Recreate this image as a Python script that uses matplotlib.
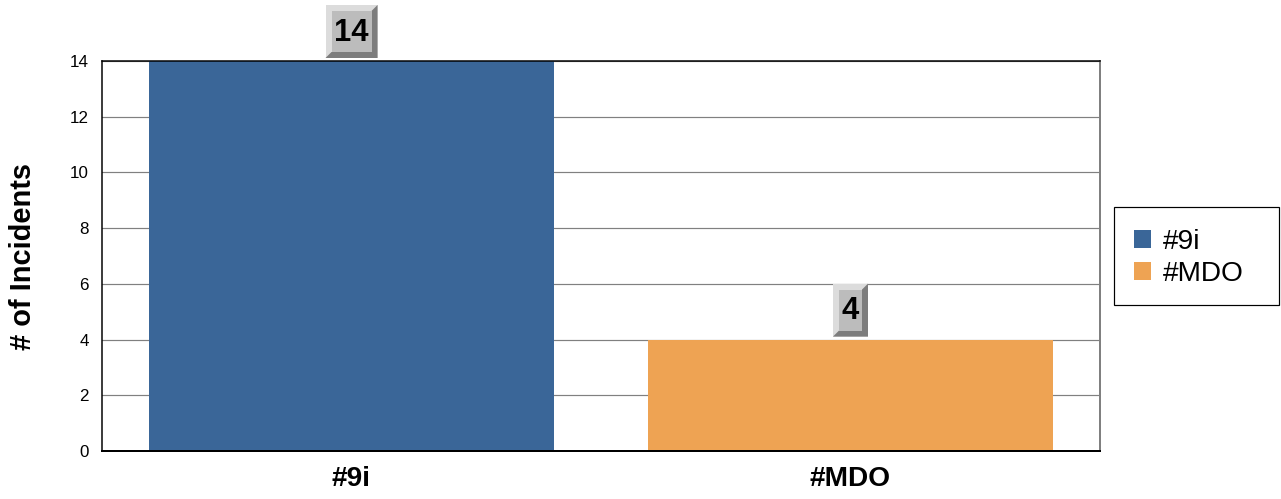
import numpy as np
import matplotlib
matplotlib.use('Agg')
import matplotlib.pyplot as plt
from matplotlib.patches import Patch, Rectangle, Polygon
from matplotlib.offsetbox import DrawingArea, AnnotationBbox

plt.rcParams['font.family'] = ['Liberation Sans', 'DejaVu Sans']

# data
categories = ['#9i', '#MDO']
incidents = [14, 4]
bar_colors = ['#3a6698', '#eea353']
y_ticks = [0, 2, 4, 6, 8, 10, 12, 14]

W, H = 1281, 499
# dpi 72 -> 1 point == 1 pixel
fig = plt.figure(figsize=(W / 72, H / 72), dpi=72)
ax = fig.add_axes([102 / W, 48 / H, 998 / W, 390 / H])

x = np.arange(len(categories))
ax.bar(x, incidents, width=0.81, color=bar_colors, zorder=3)

ax.set_xlim(-0.5, len(categories) - 0.5)
ax.set_ylim(0, 14)
ax.set_yticks(y_ticks)
ax.set_xticks(x)
ax.set_xticklabels(categories, fontsize=28, fontweight='bold')
ax.tick_params(axis='y', length=0, pad=13, labelsize=17)
ax.tick_params(axis='x', length=0, pad=15)
ax.grid(axis='y', color='#808080', linewidth=1.2, zorder=0)

ax.spines['left'].set_linewidth(1.5)
ax.spines['bottom'].set_linewidth(2)
ax.spines['top'].set_linewidth(1.5)
ax.spines['right'].set_color('#808080')
ax.spines['right'].set_linewidth(2)
for s in ax.spines.values():
    s.set_zorder(4)

fig.text(23 / W, 1 - 256 / H, '# of Incidents', rotation=90,
         ha='center', va='center', fontsize=29, fontweight='bold')

# bevelled value labels
b = 6
h = 53
gap = 3
for xi, v in zip(x, incidents):
    txt = str(v)
    w = 18 + 17 * len(txt)
    da = DrawingArea(w, h, 0, 0)
    da.add_artist(Rectangle((0, 0), w, h, facecolor='#dcdcdc', edgecolor='none'))
    da.add_artist(Polygon([(0, 0), (w, 0), (w, h), (w - b, h - b), (w - b, b), (b, b)],
                          closed=True, facecolor='#7d7d7d', edgecolor='none'))
    da.add_artist(Rectangle((b, b), w - 2 * b, h - 2 * b, facecolor='#bcbcbc', edgecolor='none'))
    ab = AnnotationBbox(da, (xi, v), xybox=(0, gap), boxcoords='offset points',
                        box_alignment=(0.5, 0), frameon=False, pad=0,
                        annotation_clip=False, zorder=5)
    ax.add_artist(ab)
    ax.annotate(txt, (xi, v), xytext=(0, gap + h / 2 - 1), textcoords='offset points',
                ha='center', va='center', fontsize=31, fontweight='bold',
                annotation_clip=False, zorder=6)

# legend: frame drawn separately so its size matches
fig.patches.append(Rectangle((1114 / W, 1 - 305 / H), 165 / W, 98 / H,
                             transform=fig.transFigure, facecolor='white',
                             edgecolor='black', linewidth=1.2, zorder=1))
handles = [Patch(facecolor=c, edgecolor='none') for c in bar_colors]
leg = fig.legend(handles, categories, loc='upper left',
                 bbox_to_anchor=(1134 / W, 1 - 229 / H),
                 fontsize=28, frameon=False,
                 handlelength=0.62, handleheight=0.62,
                 handletextpad=0.4, labelspacing=0.2, borderpad=0,
                 borderaxespad=0)
leg.set_zorder(2)

fig.savefig('out.png', dpi=72)
